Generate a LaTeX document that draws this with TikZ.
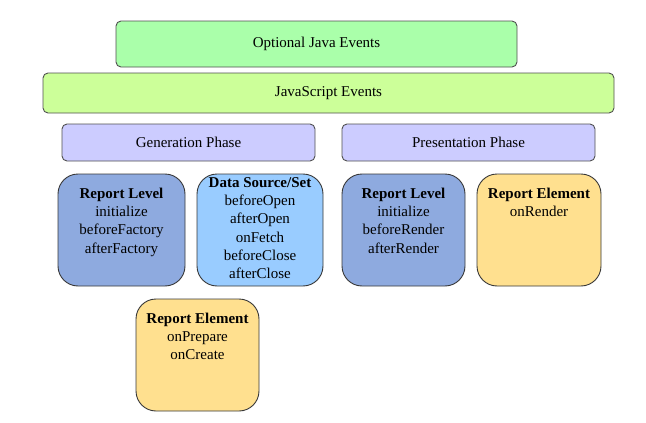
\documentclass[tikz,border=0pt]{standalone}
\usepackage{fontspec}
\setmainfont{Liberation Serif}
\definecolor{optgreen}{HTML}{AAFFAA}
\definecolor{jsgreen}{HTML}{CCFF99}
\definecolor{phaseblue}{HTML}{CCCCFF}
\definecolor{levelblue}{HTML}{8EAADF}
\definecolor{dsblue}{HTML}{99CCFF}
\definecolor{elemyellow}{HTML}{FFE08F}
\definecolor{edgegray}{HTML}{505050}
\tikzset{
  band/.style={draw=edgegray, line width=0.9pt, rounded corners=5pt, inner sep=0pt,
    font=\fontsize{15}{18.3}\selectfont},
  card/.style={draw=edgegray!70!black, line width=0.9pt, rounded corners=20pt, inner sep=0pt,
    minimum width=124pt, minimum height=112pt},
  cardtext/.style={anchor=north, inner sep=0pt, align=center,
    font=\fontsize{15}{18.3}\selectfont},
}
\begin{document}
\begin{tikzpicture}[x=1pt,y=-1pt]
\useasboundingbox (0,0) rectangle (646,423);
% bands
\node[band, fill=optgreen, minimum width=401pt, minimum height=46pt] (opt) at (316.5,44) {Optional Java Events};
\node[band, fill=jsgreen, minimum width=571pt, minimum height=40pt] (js) at (328.5,93) {JavaScript Events};
\node[band, fill=phaseblue, minimum width=253pt, minimum height=37pt] (gen) at (188.5,142.5) {Generation Phase};
\node[band, fill=phaseblue, minimum width=253pt, minimum height=37pt] (pres) at (468.5,142.5) {Presentation Phase};
% cards
\node[card, fill=levelblue, minimum width=127pt] (rlg) at (121.5,230) {};
\node[card, fill=dsblue, minimum width=126pt] (ds) at (260,230) {};
\node[card, fill=levelblue, minimum width=123pt] (rlp) at (403.5,230) {};
\node[card, fill=elemyellow] (rep) at (539,230) {};
\node[card, fill=elemyellow, minimum width=123pt] (reg) at (197.5,355) {};
% card texts
\node[cardtext] (rlgt) at ([yshift=-14pt]rlg.north) {\textbf{Report Level}\\initialize\\beforeFactory\\afterFactory};
\node[cardtext] (dst) at ([yshift=-3.5pt]ds.north) {\textbf{Data Source/Set}\\beforeOpen\\afterOpen\\onFetch\\beforeClose\\afterClose};
\node[cardtext] (rlpt) at ([yshift=-14pt]rlp.north) {\textbf{Report Level}\\initialize\\beforeRender\\afterRender};
\node[cardtext] (rept) at ([yshift=-14pt]rep.north) {\textbf{Report Element}\\onRender};
\node[cardtext] (regt) at ([yshift=-14pt]reg.north) {\textbf{Report Element}\\onPrepare\\onCreate};
\end{tikzpicture}
\end{document}
